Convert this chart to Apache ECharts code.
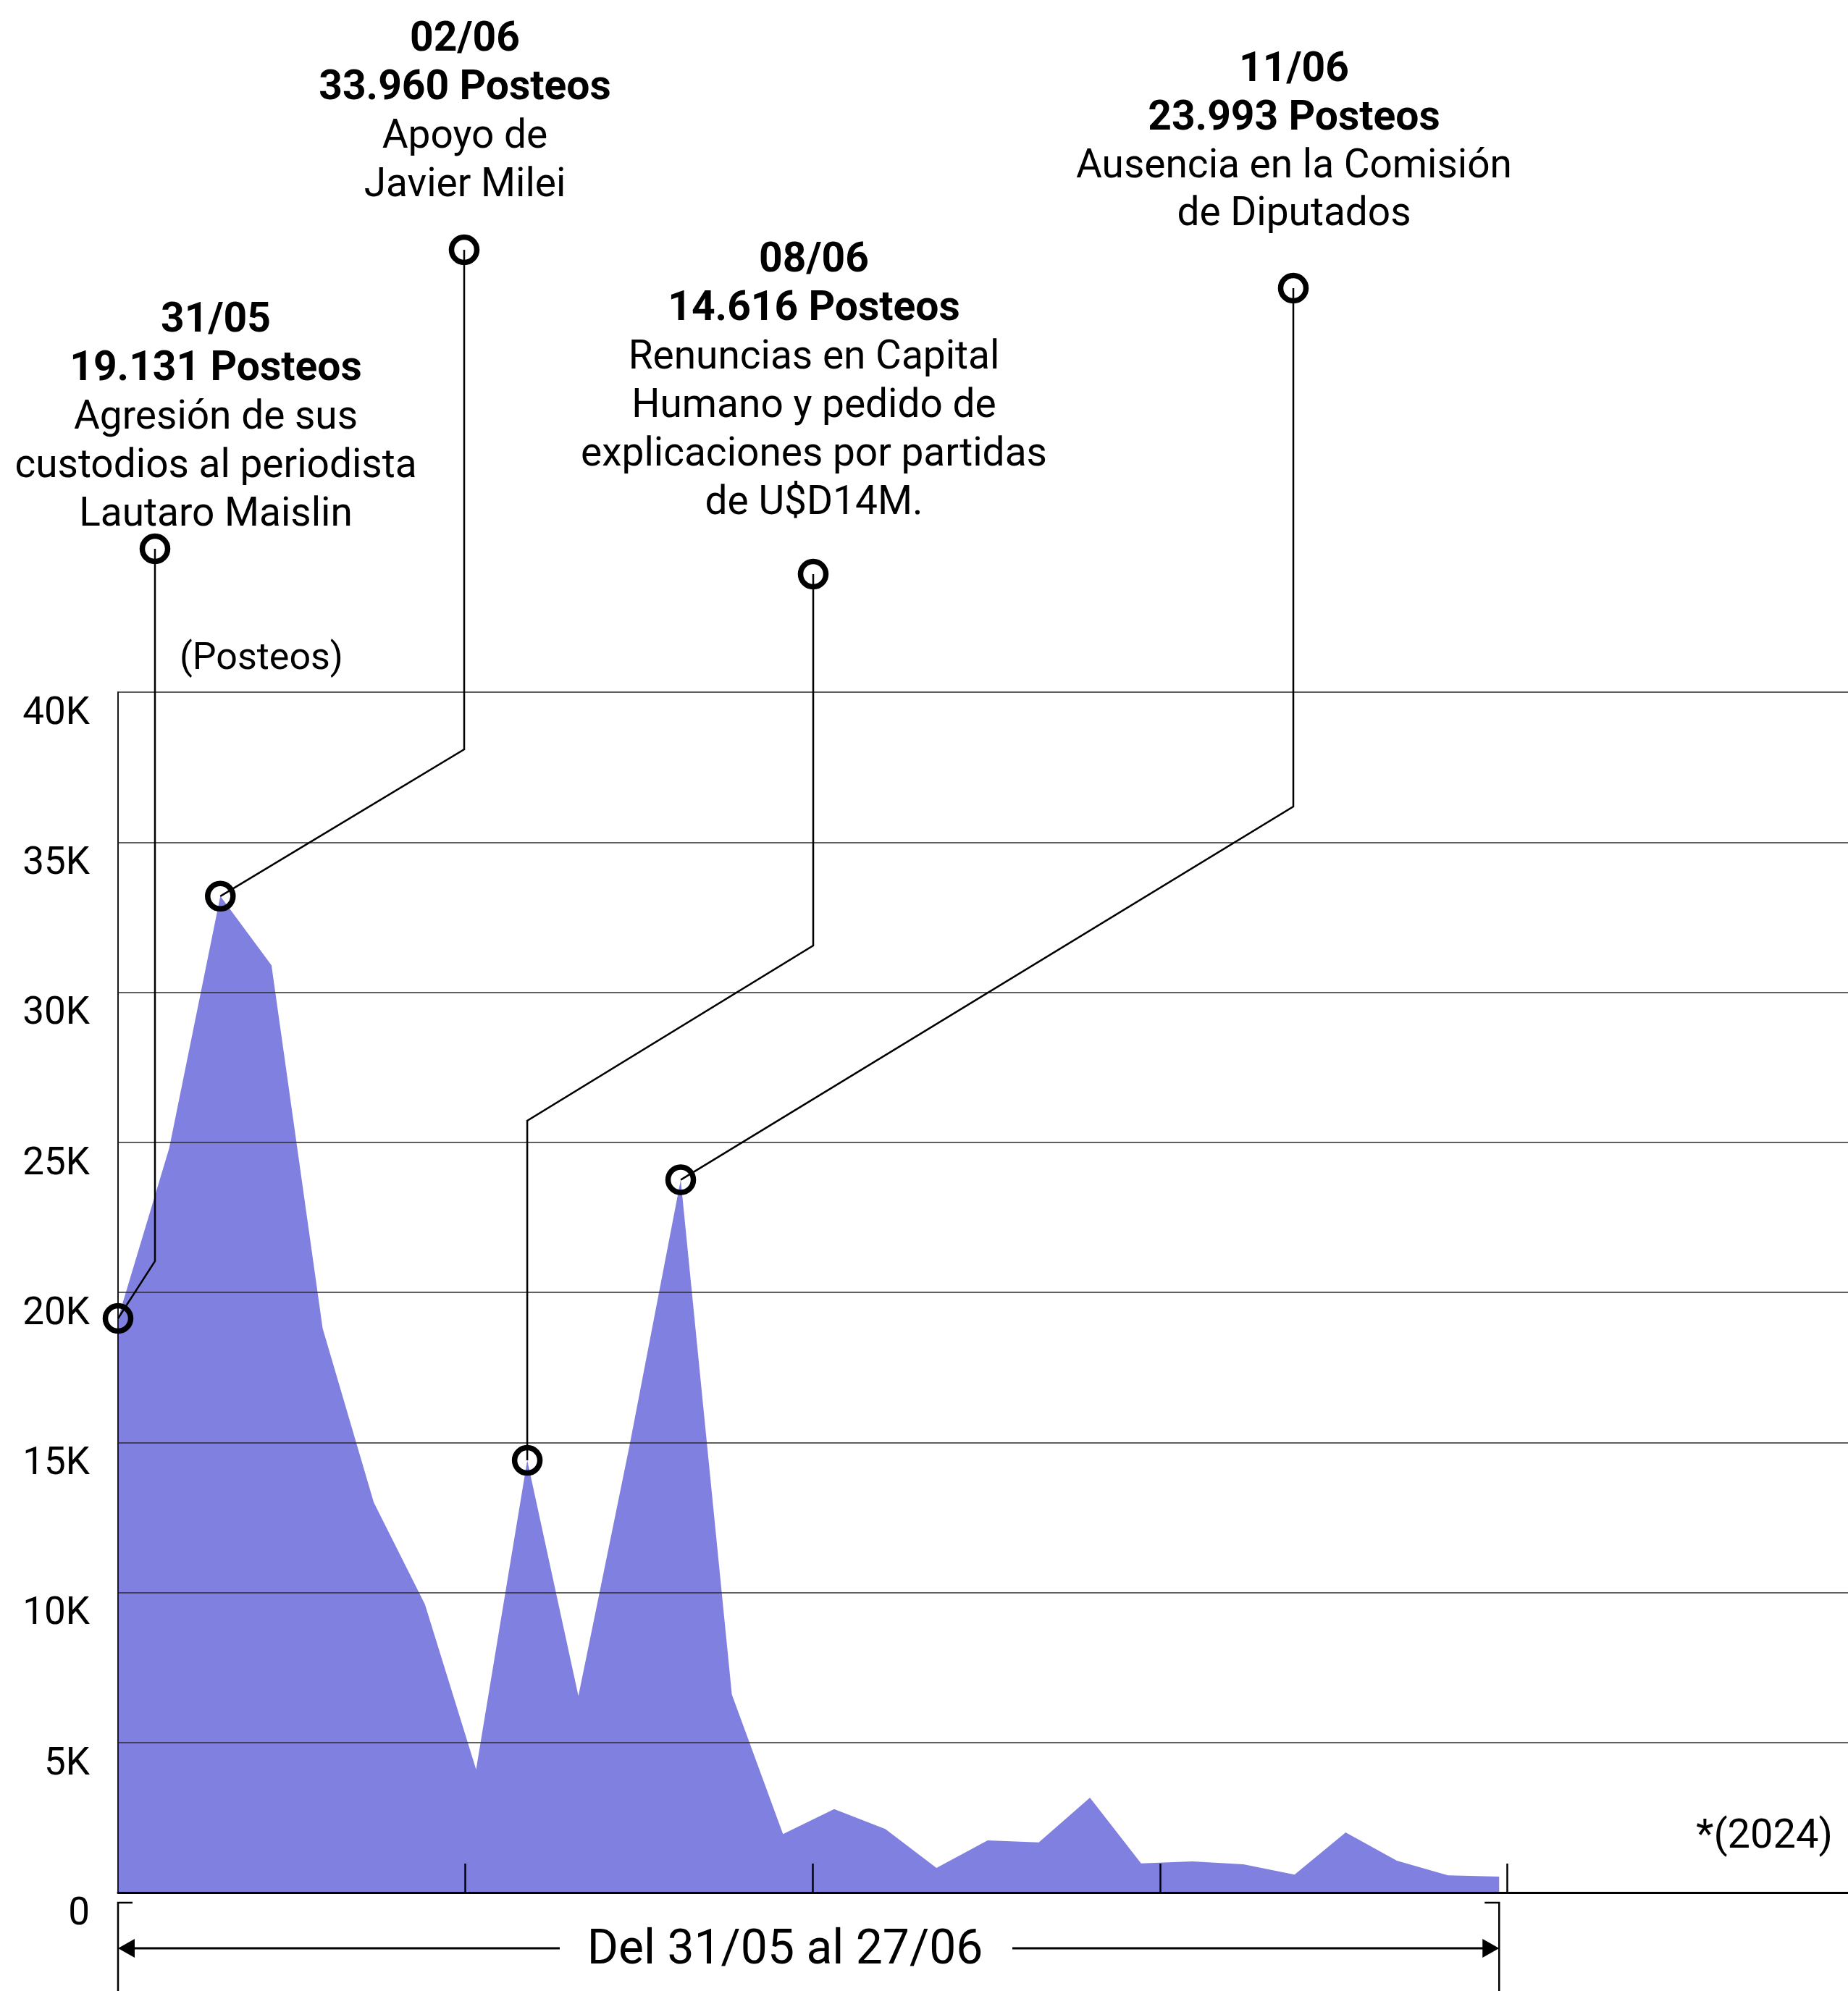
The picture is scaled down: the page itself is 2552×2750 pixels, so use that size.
<!DOCTYPE html>
<html>
<head>
<meta charset="utf-8">
<script src="https://cdn.jsdelivr.net/npm/echarts@6/dist/echarts.min.js"></script>
<style>
html,body{margin:0;padding:0;background:#fff;}
#c{width:2552px;height:2750px;}
</style>
</head>
<body>
<div id="c"></div>
<script>
// ---------- data ----------
const dates = ['31/05','01/06','02/06','03/06','04/06','05/06','06/06','07/06','08/06','09/06',
  '10/06','11/06','12/06','13/06','14/06','15/06','16/06','17/06','18/06','19/06',
  '20/06','21/06','22/06','23/06','24/06','25/06','26/06','27/06'];
const posts = [19131, 24800, 33200, 30900, 18800, 13000, 9600, 4100, 14400, 6550,
  14900, 23750, 6600, 1950, 2780, 2120, 820, 1740, 1670, 3160,
  970, 1040, 940, 600, 2000, 1060, 570, 530];
const yTickValues = [0, 5000, 10000, 15000, 20000, 25000, 30000, 35000, 40000];
const weekTicks = [6.79, 13.58, 20.37, 27.16];
const highlightDates = ['31/05', '02/06', '08/06', '11/06'];
const annotationTexts = [
  ['31/05', '19.131 Posteos', 'Agresión de sus', 'custodios al periodista', 'Lautaro Maislin'],
  ['02/06', '33.960 Posteos', 'Apoyo de', 'Javier Milei'],
  ['08/06', '14.616 Posteos', 'Renuncias en Capital', 'Humano y pedido de', 'explicaciones por partidas', 'de U$D14M.'],
  ['11/06', '23.993 Posteos', 'Ausencia en la Comisión', 'de Diputados']
];
const yAxisName = '(Posteos)';
const yearNote = '*(2024)';
const rangeText = 'Del 31/05 al 27/06';

// ---------- layout (positions only) ----------
const annLayout = [
  { tx: 298,  ty: 444, step: 67,   circle: [214, 758],  bends: [[214, 1742]] },
  { tx: 642,  ty: 56,  step: 67,   circle: [641, 345],  bends: [[641, 1035]] },
  { tx: 1124, ty: 361, step: 67,   circle: [1123, 793], bends: [[1123, 1306], [null, 1548]] },
  { tx: 1787, ty: 98,  step: 66.5, circle: [1786, 398], bends: [[1786, 1114]] }
];
const FONT = 'Roboto, "Noto Sans", sans-serif';

const seriesData = posts.map((v, i) => [i, v]);
const hlData = highlightDates.map(d => { const i = dates.indexOf(d); return [i, posts[i]]; });

const chart = echarts.init(document.getElementById('c'), null, { renderer: 'canvas', devicePixelRatio: 1 });

const option = {
  backgroundColor: '#ffffff',
  animation: false,
  grid: { left: 163, right: 0, top: 956, bottom: 136, containLabel: false },
  xAxis: {
    type: 'value',
    min: 0,
    max: 33.82,
    z: 10,
    axisLine: { show: true, onZero: false, lineStyle: { color: '#000', width: 3 } },
    axisTick: { show: true, inside: true, length: 40, customValues: weekTicks, lineStyle: { color: '#000', width: 2.5 } },
    axisLabel: { show: false },
    splitLine: { show: false }
  },
  yAxis: {
    type: 'value',
    min: 0,
    max: 40000,
    interval: 5000,
    z: 10,
    axisLine: { show: true, lineStyle: { color: '#1a1a1a', width: 2 } },
    axisTick: { show: false },
    axisLabel: {
      margin: 39,
      color: '#000',
      fontFamily: FONT,
      fontSize: 53,
      verticalAlign: 'top',
      lineHeight: 61,
      formatter: v => (yTickValues.indexOf(v) < 0 ? '' : (v === 0 ? '0' : (v / 1000) + 'K'))
    },
    splitLine: { show: true, lineStyle: { color: '#2a2a2a', width: 1.6 } }
  },
  series: [
    {
      type: 'line',
      data: seriesData,
      z: 2,
      showSymbol: false,
      symbol: 'none',
      lineStyle: { width: 0, opacity: 0 },
      areaStyle: { color: '#8080E0', opacity: 1 }
    },
    {
      type: 'scatter',
      data: hlData,
      z: 30,
      symbol: 'circle',
      symbolSize: 35,
      itemStyle: { color: 'rgba(0,0,0,0)', borderColor: '#000', borderWidth: 7.5, opacity: 1 },
      emphasis: { disabled: true }
    }
  ]
};
chart.setOption(option);

// ---------- annotations ----------
const g = [];
const base0 = chart.convertToPixel({ gridIndex: 0 }, [0, 0]);
const baseEnd = chart.convertToPixel({ gridIndex: 0 }, [dates.length - 1, 0]);

annotationTexts.forEach((lines, k) => {
  const L = annLayout[k];
  const p = chart.convertToPixel({ gridIndex: 0 }, hlData[k]);
  lines.forEach((t, j) => {
    g.push({
      type: 'text', z: 20,
      style: {
        text: t, x: L.tx, y: L.ty + j * L.step,
        align: 'center', verticalAlign: 'middle',
        font: (j < 2 ? 'bold 57px ' : '55px ') + FONT,
        fill: '#000'
      }
    });
  });
  const pts = [L.circle.slice()];
  L.bends.forEach(b => pts.push([b[0] === null ? p[0] : b[0], b[1]]));
  pts.push([p[0], p[1]]);
  g.push({ type: 'polyline', z: 15, shape: { points: pts }, style: { stroke: '#000', lineWidth: 2.5, fill: null } });
  g.push({ type: 'circle', z: 25, shape: { cx: L.circle[0], cy: L.circle[1], r: 17.5 }, style: { stroke: '#000', lineWidth: 7.5, fill: null } });
});

// axis name and note
g.push({ type: 'text', z: 20, style: { text: yAxisName, x: 361, y: 911, align: 'center', verticalAlign: 'middle', font: '52px ' + FONT, fill: '#000' } });
g.push({ type: 'text', z: 20, style: { text: yearNote, x: 2531, y: 2538, align: 'right', verticalAlign: 'middle', font: '56px ' + FONT, fill: '#000' } });

// range bracket
const bx0 = base0[0], bx1 = baseEnd[0], by = base0[1];
const topY = by + 14, arrowY = by + 77;
g.push({ type: 'polyline', z: 20, shape: { points: [[bx0 + 20, topY], [bx0, topY], [bx0, 2760]] }, style: { stroke: '#000', lineWidth: 2.5, fill: null } });
g.push({ type: 'polyline', z: 20, shape: { points: [[bx1 - 20, topY], [bx1, topY], [bx1, 2760]] }, style: { stroke: '#000', lineWidth: 2.5, fill: null } });
g.push({ type: 'line', z: 20, shape: { x1: bx0 + 10, y1: arrowY, x2: 773, y2: arrowY }, style: { stroke: '#000', lineWidth: 3 } });
g.push({ type: 'line', z: 20, shape: { x1: 1398, y1: arrowY, x2: bx1 - 10, y2: arrowY }, style: { stroke: '#000', lineWidth: 3 } });
g.push({ type: 'polygon', z: 21, shape: { points: [[bx0, arrowY], [bx0 + 23, arrowY - 13], [bx0 + 23, arrowY + 13]] }, style: { fill: '#000' } });
g.push({ type: 'polygon', z: 21, shape: { points: [[bx1, arrowY], [bx1 - 23, arrowY - 13], [bx1 - 23, arrowY + 13]] }, style: { fill: '#000' } });
g.push({ type: 'text', z: 20, style: { text: rangeText, x: 1084, y: arrowY + 4, align: 'center', verticalAlign: 'middle', font: '66px ' + FONT, fill: '#000' } });

chart.setOption({ graphic: g });
</script>
</body>
</html>
